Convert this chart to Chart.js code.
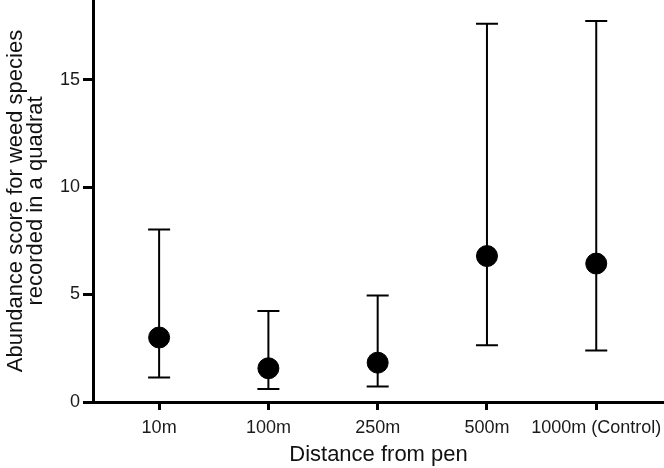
<!DOCTYPE html>
<html>
<head>
<meta charset="utf-8">
<script src="https://cdn.jsdelivr.net/npm/chart.js@4"></script>
<style>
html,body{margin:0;padding:0;background:#fff;}
#wrap{width:664px;height:468px;}
</style>
</head>
<body>
<div id="wrap"><canvas id="c" width="664" height="468"></canvas></div>
<script>
const categories = ['10m', '100m', '250m', '500m', '1000m (Control)'];
const means = [3.0, 1.57, 1.83, 6.79, 6.44];
const lowerBounds = [1.14, 0.6, 0.72, 2.64, 2.39];
const upperBounds = [8.03, 4.23, 4.95, 17.6, 17.72];
const yTicks = [0, 5, 10, 15];

const errorBars = {
  id: 'errorBars',
  beforeDatasetsDraw(chart) {
    const ctx = chart.ctx;
    const xs = chart.scales.x, ys = chart.scales.y;
    ctx.save();
    ctx.strokeStyle = '#000';
    ctx.lineWidth = 2;
    for (let i = 0; i < categories.length; i++) {
      const x = xs.getPixelForValue(i);
      const yl = ys.getPixelForValue(lowerBounds[i]);
      const yu = ys.getPixelForValue(upperBounds[i]);
      ctx.beginPath();
      ctx.moveTo(x, yu); ctx.lineTo(x, yl);
      ctx.moveTo(x - 11, yu); ctx.lineTo(x + 11, yu);
      ctx.moveTo(x - 11, yl); ctx.lineTo(x + 11, yl);
      ctx.stroke();
    }
    ctx.restore();
  }
};

function noPad(s) { s.paddingTop = 0; s.paddingBottom = 0; s.paddingLeft = 0; s.paddingRight = 0; }

new Chart(document.getElementById('c'), {
  type: 'scatter',
  data: {
    datasets: [{
      data: means.map((m, i) => ({x: i, y: m})),
      backgroundColor: '#000',
      borderColor: '#000',
      pointRadius: 10.5,
      pointHoverRadius: 10.5
    }]
  },
  options: {
    responsive: false,
    animation: false,
    layout: {padding: 0, autoPadding: false},
    plugins: {legend: {display: false}, tooltip: {enabled: false}},
    scales: {
      x: {
        type: 'linear',
        min: -0.605,
        max: 4.62,
        afterBuildTicks(s) { s.ticks = categories.map((c, i) => ({value: i})); },
        afterFit(s) { s.height = 66; noPad(s); },
        border: {display: true, color: '#000', width: 3},
        grid: {display: true, drawOnChartArea: false, drawTicks: true, tickLength: 8, lineWidth: 3, color: '#000'},
        ticks: {
          color: '#1a1a1a',
          font: {family: 'Liberation Sans', size: 18},
          padding: 7,
          maxRotation: 0,
          autoSkip: false,
          callback: (v) => categories[v]
        },
        title: {
          display: true,
          text: 'Distance from pen',
          color: '#111',
          font: {family: 'Liberation Sans', size: 22},
          padding: {top: 0, bottom: 0}
        }
      },
      y: {
        min: 0,
        max: 18.7,
        afterBuildTicks(s) { s.ticks = yTicks.map(v => ({value: v})); },
        afterFit(s) { s.width = 93; noPad(s); },
        border: {display: true, color: '#000', width: 3},
        grid: {display: true, drawOnChartArea: false, drawTicks: true, tickLength: 10, lineWidth: 3, color: '#000'},
        ticks: {
          color: '#1a1a1a',
          font: {family: 'Liberation Sans', size: 18},
          padding: 3
        },
        title: {
          display: true,
          text: ['Abundance score for weed species', 'recorded in a quadrat'],
          color: '#111',
          font: {family: 'Liberation Sans', size: 22, lineHeight: 0.95},
          padding: {top: 5, bottom: 0}
        }
      }
    }
  },
  plugins: [errorBars]
});
</script>
</body>
</html>
